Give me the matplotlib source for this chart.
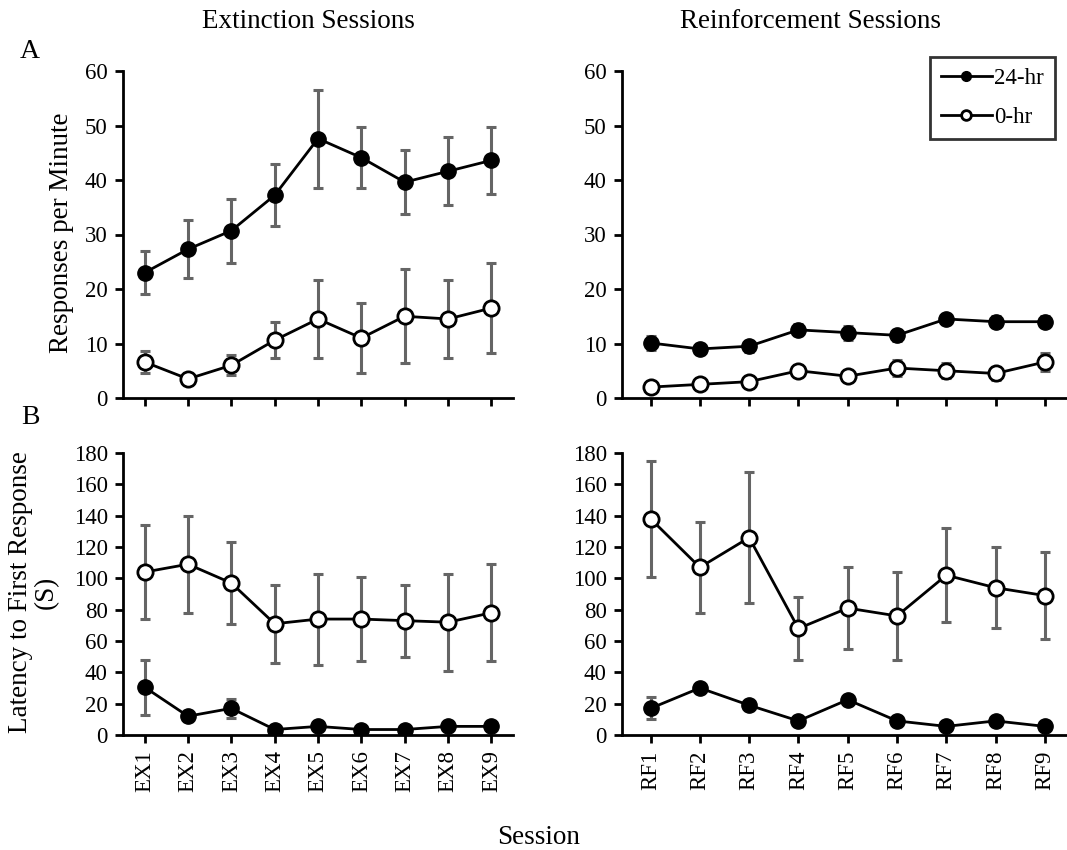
import matplotlib
matplotlib.use("Agg")
import matplotlib.pyplot as plt
import numpy as np
from matplotlib.lines import Line2D

plt.rcParams['font.family'] = ['Liberation Serif', 'DejaVu Serif']

ex_labels = ["EX1", "EX2", "EX3", "EX4", "EX5", "EX6", "EX7", "EX8", "EX9"]
rf_labels = ["RF1", "RF2", "RF3", "RF4", "RF5", "RF6", "RF7", "RF8", "RF9"]

# Panel A: responses per minute
rate_ex_24 = [23.0, 27.3, 30.7, 37.2, 47.6, 44.1, 39.6, 41.6, 43.6]
rate_ex_24_err = [4.0, 5.3, 5.9, 5.7, 9.0, 5.6, 5.9, 6.2, 6.1]
rate_ex_0 = [6.6, 3.5, 6.0, 10.6, 14.5, 11.0, 15.0, 14.5, 16.5]
rate_ex_0_err = [2.0, 1.0, 1.8, 3.3, 7.2, 6.4, 8.6, 7.2, 8.3]
rate_rf_24 = [10.1, 9.0, 9.5, 12.5, 12.0, 11.5, 14.5, 14.0, 14.0]
rate_rf_24_err = [1.3, 1.0, 1.0, 1.0, 1.3, 1.0, 0.8, 1.0, 1.0]
rate_rf_0 = [2.0, 2.5, 3.0, 5.0, 4.0, 5.5, 5.0, 4.5, 6.6]
rate_rf_0_err = [0.6, 0.6, 0.6, 1.0, 0.8, 1.5, 1.4, 1.2, 1.7]

# Panel B: latency to first response (s)
lat_ex_24 = [30.5, 12.0, 17.0, 3.5, 5.5, 3.5, 3.5, 5.5, 5.5]
lat_ex_24_err = [17.5, 2.0, 6.0, 1.0, 1.0, 1.0, 1.0, 1.0, 1.0]
lat_ex_0 = [104.0, 109.0, 97.0, 71.0, 74.0, 74.0, 73.0, 72.0, 78.0]
lat_ex_0_err = [30.0, 31.0, 26.0, 25.0, 29.0, 27.0, 23.0, 31.0, 31.0]
lat_rf_24 = [17.0, 30.0, 19.0, 9.0, 22.5, 9.0, 5.5, 9.0, 5.5]
lat_rf_24_err = [7.0, 1.5, 1.5, 1.0, 1.5, 1.0, 1.0, 1.0, 1.0]
lat_rf_0 = [138.0, 107.0, 126.0, 68.0, 81.0, 76.0, 102.0, 94.0, 89.0]
lat_rf_0_err = [37.0, 29.0, 42.0, 20.0, 26.0, 28.0, 30.0, 26.0, 28.0]

W, H = 1067, 850
fig = plt.figure(figsize=(W / 100, H / 100), dpi=100)

def fr(x0, y_top, x1, y_bot):
    return [x0 / W, 1 - y_bot / H, (x1 - x0) / W, (y_bot - y_top) / H]

axA1 = fig.add_axes(fr(123, 71, 513, 398))
axA2 = fig.add_axes(fr(622, 71, 1067, 398))
axB1 = fig.add_axes(fr(123, 453, 513, 735))
axB2 = fig.add_axes(fr(622, 453, 1067, 735))

err_col = "#656565"
TFS = 16.5   # tick labels
LFS = 19.5   # titles / axis labels

def draw(ax, labels, y24, e24, y0, e0, ylim, yticks, show_labels):
    x = np.arange(1, len(labels) + 1)
    for y, e in ((y24, e24), (y0, e0)):
        ax.errorbar(x, y, yerr=e, fmt="none", ecolor=err_col, elinewidth=2.2,
                    capsize=3.8, capthick=2.2, zorder=2)
    ax.plot(x, y24, color="black", lw=2, marker="o", ms=11,
            mfc="black", mec="black", zorder=3)
    ax.plot(x, y0, color="black", lw=2, marker="o", ms=11,
            mfc="white", mec="black", mew=2, zorder=3)
    ax.set_ylim(*ylim)
    ax.set_yticks(yticks)
    ax.set_xticks(x)
    if show_labels:
        ax.set_xticklabels(labels, rotation=90, fontsize=TFS)
    else:
        ax.set_xticklabels([])
    for s in ("top", "right"):
        ax.spines[s].set_visible(False)
    for s in ("left", "bottom"):
        ax.spines[s].set_linewidth(2)
        ax.spines[s].set_color("black")
    ax.tick_params(direction="out", length=6, width=2, labelsize=TFS, pad=5)
    ax.patch.set_alpha(0)

draw(axA1, ex_labels, rate_ex_24, rate_ex_24_err, rate_ex_0, rate_ex_0_err,
     (0, 60), range(0, 61, 10), False)
draw(axA2, rf_labels, rate_rf_24, rate_rf_24_err, rate_rf_0, rate_rf_0_err,
     (0, 60), range(0, 61, 10), False)
draw(axB1, ex_labels, lat_ex_24, lat_ex_24_err, lat_ex_0, lat_ex_0_err,
     (0, 180), range(0, 181, 20), True)
draw(axB2, rf_labels, lat_rf_24, lat_rf_24_err, lat_rf_0, lat_rf_0_err,
     (0, 180), range(0, 181, 20), True)

axA1.set_xlim(0.5, 9.5)
axB1.set_xlim(0.5, 9.5)
axA2.set_xlim(0.42, 9.45)
axB2.set_xlim(0.42, 9.45)

handles = [
    Line2D([], [], color="black", lw=2, marker="o", ms=7, mfc="black", mec="black"),
    Line2D([], [], color="black", lw=2, marker="o", ms=7, mfc="white", mec="black", mew=2),
]
leg = axA2.legend(handles, ["24-hr", "0-hr"], loc="upper right",
                  bbox_to_anchor=(1055 / W, 1 - 57 / H), bbox_transform=fig.transFigure,
                  fontsize=TFS, frameon=True, fancybox=False, handlelength=2.2,
                  handletextpad=0.1, borderpad=0.5, labelspacing=0.75,
                  borderaxespad=0)
leg.get_frame().set_edgecolor("black")
leg.get_frame().set_linewidth(2)

fig.text(308 / W, 1 - 22 / H, "Extinction Sessions", ha="center", va="center", fontsize=LFS)
fig.text(810 / W, 1 - 22 / H, "Reinforcement Sessions", ha="center", va="center", fontsize=LFS)
fig.text(30 / W, 1 - 52 / H, "A", ha="center", va="center", fontsize=20)
fig.text(30 / W, 1 - 417 / H, "B", ha="center", va="center", fontsize=20)
fig.text(62 / W, 1 - 233 / H, "Responses per Minute", ha="center", va="center",
         rotation=90, fontsize=LFS)
fig.text(33 / W, 1 - 592 / H, "Latency to First Response\n(S)", ha="center", va="center",
         rotation=90, fontsize=LFS, multialignment="center", linespacing=1.05)
fig.text(539 / W, 1 - 838 / H, "Session", ha="center", va="center", fontsize=LFS)

fig.savefig("out.png", dpi=100)
